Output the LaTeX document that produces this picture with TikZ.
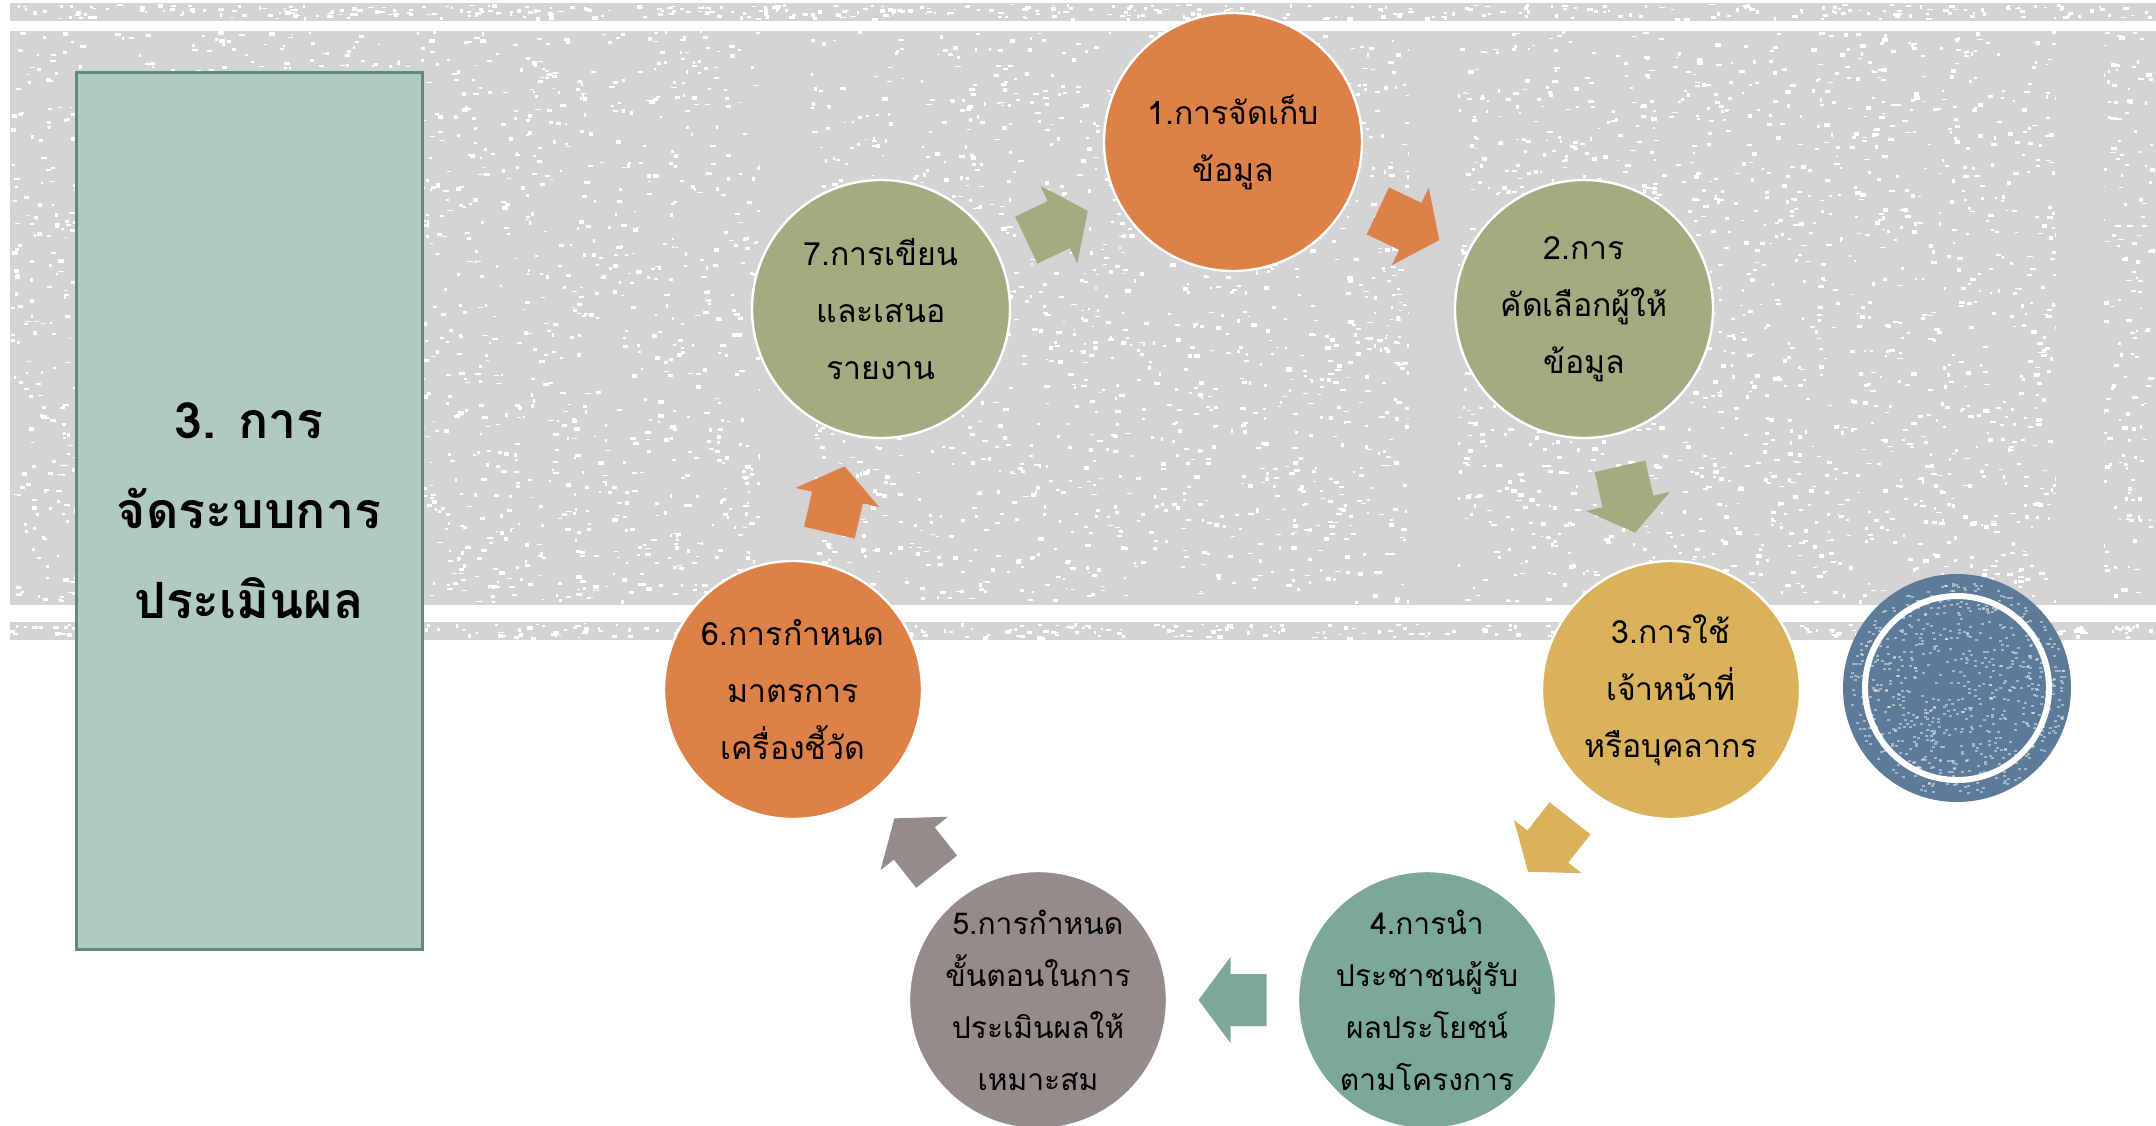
\documentclass[tikz,border=0pt]{standalone}
\usepackage{fontspec}
\newfontfamily\thai[Script=Thai]{Loma}
\usetikzlibrary{calc}
\definecolor{bandgray}{HTML}{D4D4D4}
\definecolor{colgray}{HTML}{D3D3D3}
\definecolor{boxfill}{HTML}{B0CAC2}
\definecolor{boxline}{HTML}{5F8A7E}
\definecolor{corange}{HTML}{DE8148}
\definecolor{colive}{HTML}{A3AB80}
\definecolor{cgold}{HTML}{D9B25B}
\definecolor{cteal}{HTML}{7BA89A}
\definecolor{cmauve}{HTML}{958B8A}
\definecolor{cblue}{HTML}{5B7B98}
\tikzset{
  stepcircle/.style={circle, draw=white, line width=1.2pt, minimum size=129pt,
    inner sep=0pt, align=center, text=black, font=\thai\fontsize{16}{28.5}\selectfont},
  smalltext/.style={font=\thai\fontsize{15}{26}\selectfont},
  titlebox/.style={draw=boxline, line width=1.5pt, fill=boxfill, minimum width=173pt,
    minimum height=438.5pt, inner sep=0pt, align=center, text=black,
    font=\thai\bfseries\fontsize{25}{45}\selectfont},
  speck/.style={fill=white},
}
\newcommand\cyclearrow[3]{%
  \fill[#3] let \p1=(#1.center), \p2=(#2.center), \n1={atan2(\y2-\y1,\x2-\x1)} in
    [shift={($(#1.center)!0.5!(#2.center)$)}, rotate=\n1]
    (-34,-26) -- (2,-26) -- (2,-43) -- (34,0) -- (2,43) -- (2,26) -- (-34,26) -- cycle;
}
\begin{document}
\begin{tikzpicture}[x=0.5pt,y=-0.5pt]
\useasboundingbox (0,0) rectangle (2156,1125);
\clip (0,0) rectangle (2156,1125);
\fill[white] (0,0) rectangle (2156,1125);
% textured bands
\fill[bandgray] (10,3) rectangle (2156,21);
\fill[bandgray] (10,31) rectangle (2156,605);
\fill[bandgray] (10,622) rectangle (2156,640);
\pgfmathsetseed{42}
\foreach \i in {1,...,5200}{
  \pgfmathsetmacro\sx{10+rnd*2140}
  \pgfmathsetmacro\sy{31+rnd*570}
  \fill[speck] (\sx,\sy) rectangle ++({2+rnd*4},{1+rnd*3});
}
\foreach \i in {1,...,400}{
  \pgfmathsetmacro\sx{10+rnd*2140}
  \pgfmathsetmacro\sy{4+rnd*14}
  \fill[speck] (\sx,\sy) rectangle ++({2+rnd*4},{1+rnd*3});
}
\foreach \i in {1,...,400}{
  \pgfmathsetmacro\sx{10+rnd*2140}
  \pgfmathsetmacro\sy{623+rnd*14}
  \fill[speck] (\sx,\sy) rectangle ++({2+rnd*4},{1+rnd*3});
}
\fill[colgray] (760,31) rectangle (811,605);
\fill[colgray] (1409,31) rectangle (1458,605);
\fill[colgray] (2056,31) rectangle (2104,605);
% title box
\node[titlebox] (box) at (249,510.5) {3. การ\\จัดระบบการ\\ประเมินผล};
% cycle steps
\node[stepcircle, fill=corange] (s1) at (1233,142) {1.การจัดเก็บ\\ข้อมูล};
\node[stepcircle, fill=colive] (s2) at (1584,309) {2.การ\\คัดเลือกผู้ให้\\ข้อมูล};
\node[stepcircle, fill=cgold] (s3) at (1671,690) {3.การใช้\\เจ้าหน้าที่\\หรือบุคลากร};
\node[stepcircle, fill=cteal, smalltext] (s4) at (1427,1000) {4.การนำ\\ประชาชนผู้รับ\\ผลประโยชน์\\ตามโครงการ};
\node[stepcircle, fill=cmauve, smalltext] (s5) at (1038,1000) {5.การกำหนด\\ขั้นตอนในการ\\ประเมินผลให้\\เหมาะสม};
\node[stepcircle, fill=corange] (s6) at (793,690) {6.การกำหนด\\มาตรการ\\เครื่องชี้วัด};
\node[stepcircle, fill=colive] (s7) at (881,309) {7.การเขียน\\และเสนอ\\รายงาน};
% block arrows between steps
\cyclearrow{s1}{s2}{corange}
\cyclearrow{s2}{s3}{colive}
\cyclearrow{s3}{s4}{cgold}
\cyclearrow{s4}{s5}{cteal}
\cyclearrow{s5}{s6}{cmauve}
\cyclearrow{s6}{s7}{corange}
\cyclearrow{s7}{s1}{colive}
% decorative blue disc
\node[circle, fill=cblue, minimum size=114pt, inner sep=0pt] (deco) at (1957,688) {};
\foreach \i in {1,...,700}{
  \pgfmathsetmacro\pa{rnd*360}
  \pgfmathsetmacro\pr{sqrt(rnd)*108}
  \fill[white, opacity=0.45] ($(deco.center)+(\pa:\pr)$) rectangle ++(3,2);
}
\draw[white, line width=3pt] (deco.center) circle[radius=92];
\end{tikzpicture}
\end{document}
